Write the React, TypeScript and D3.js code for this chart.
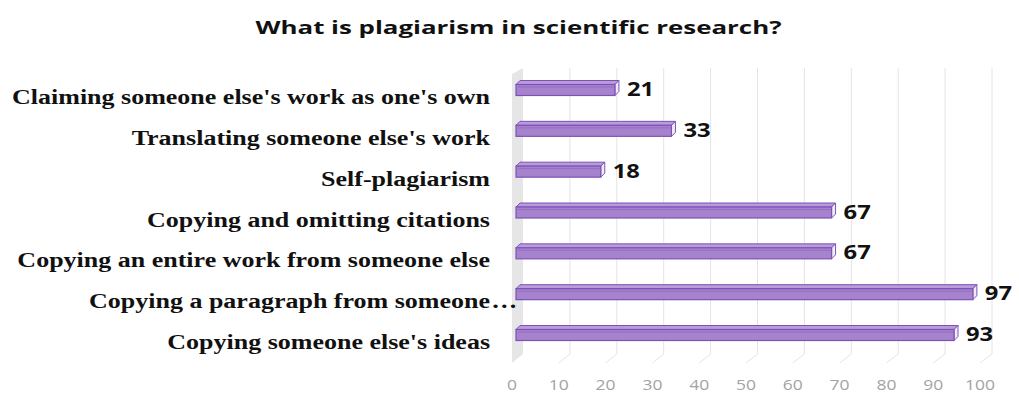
import React from "react";
import * as d3 from "d3";

const categories = [
  "Claiming someone else's work as one's own",
  "Translating someone else's work",
  "Self-plagiarism",
  "Copying and omitting citations",
  "Copying an entire work from someone else",
  "Copying a paragraph from someone…",
  "Copying someone else's ideas",
];
const values = [21, 33, 18, 67, 67, 97, 93];
const ticks = [0, 10, 20, 30, 40, 50, 60, 70, 80, 90, 100];
const title = "What is plagiarism in scientific research?";

export default function App() {
  const W = 1019, H = 393;
  const xFloor = d3.scaleLinear().domain([0, 100]).range([512, 980]);
  const xBack = d3.scaleLinear().domain([0, 100]).range([523, 992]);
  const xBar = d3.scaleLinear().domain([0, 100]).range([516, 987]);
  const y = d3.scalePoint<string>().domain(categories).range([88, 333]);
  const dx = 4, dy = 4, bh = 11;
  const floorY = 363, backBottom = 354, backTop = 68;
  const sx = 1.3;

  return (
    <svg width={W} height={H} style={{ position: "absolute", left: 0, top: 0, background: "#fff" }}>
      <text x={W / 2 + 9} y={34} textAnchor="middle" fontFamily="Open Sans, sans-serif" fontWeight={700}
        fontSize={18} textLength={526} lengthAdjust="spacingAndGlyphs" fill="#111">{title}</text>
      <polygon points={`${xFloor(0)},${floorY} ${xBack(0) - 11},${backTop + 6} ${xBack(0)},${backTop} ${xBack(0)},${backBottom}`}
        fill="#e6e6e6" />
      {ticks.map((t) => (
        <g key={t}>
          {t > 0 && <line x1={xBack(t)} x2={xBack(t)} y1={backTop} y2={backBottom} stroke="#e4e4e4" strokeWidth={1} />}
          {t > 0 && <line x1={xFloor(t)} y1={floorY} x2={xBack(t)} y2={backBottom} stroke="#e4e4e4" strokeWidth={1} />}
          <g transform={`translate(${xFloor(t)},390) scale(1.25,1)`}>
            <text x={0} y={0} textAnchor="middle" fontFamily="Open Sans, sans-serif" fontSize={14} fill="#a3a3a3">{t}</text>
          </g>
        </g>
      ))}
      {categories.map((c, i) => {
        const v = values[i];
        const cy = y(c)!;
        const x0 = xBar(0), x1 = xBar(v);
        const top = cy - bh / 2 + dy / 2, bot = top + bh;
        const truncated = c.endsWith("…");
        const main = truncated ? c.slice(0, -1) : c;
        return (
          <g key={c}>
            <polygon points={`${x0},${top} ${x0 + dx},${top - dy} ${x1 + dx},${top - dy} ${x1},${top}`}
              fill="#b99bd9" stroke="#7c52b8" strokeWidth={1} />
            <polygon points={`${x1},${top} ${x1 + dx},${top - dy} ${x1 + dx},${bot - dy} ${x1},${bot}`}
              fill="#f1eaf8" stroke="#7c52b8" strokeWidth={1} />
            <rect x={x0} y={top} width={x1 - x0} height={bh} fill="#a683cc" stroke="#7c52b8" strokeWidth={1.2} />
            <line x1={x0 + 2} x2={x1 - 1} y1={top + 2.5} y2={top + 2.5} stroke="#8f68c2" strokeWidth={0.8} />
            <g transform={`translate(${x1 + dx + 8},${cy + 8}) scale(1.25,1)`}>
              <text x={0} y={0} fontFamily="Open Sans, sans-serif" fontWeight={700} fontSize={19} fill="#111">{v}</text>
            </g>
            <g transform={`translate(490,${cy + 16}) scale(${sx},1)`}>
              <text x={0} y={0} textAnchor="end" fontFamily="Liberation Serif, serif" fontWeight={700} fontSize={20} fill="#111">{main}</text>
              {truncated && <text x={1} y={0} textAnchor="start" fontFamily="Liberation Serif, serif" fontWeight={700} fontSize={20} fill="#111">…</text>}
            </g>
          </g>
        );
      })}
    </svg>
  );
}
